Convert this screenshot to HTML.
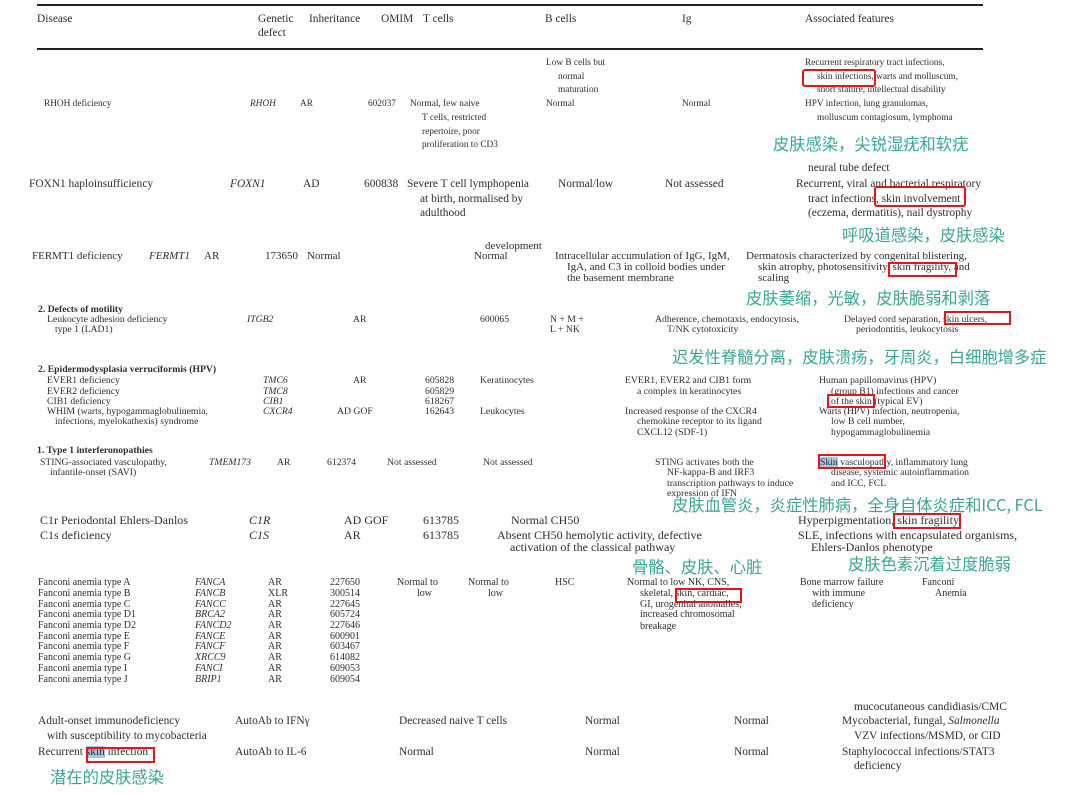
<!DOCTYPE html>
<html><head><meta charset="utf-8"><style>
body{margin:0;background:#fff;width:1080px;height:796px;position:relative;overflow:hidden;font-family:"Liberation Serif","Noto Serif CJK SC",serif;color:#2e2e2e}
.t{position:absolute;white-space:nowrap;line-height:1}
.s9{font-size:9.3px}.s8{font-size:9.7px}.s10{font-size:12px}.s11{font-size:11.4px}.s95{font-size:11px}.f{font-size:10px}
i{font-style:italic}
.cn{position:absolute;white-space:nowrap;line-height:1;font-family:"Noto Sans CJK SC",sans-serif;color:#3aa597;font-size:16.3px}
.r{position:absolute;border:2px solid #e8141c;box-sizing:border-box}
.hl{position:absolute;left:37px;width:946px;height:2px;background:#222}
</style></head><body>
<div class="hl" style="top:4px"></div><div class="hl" style="top:48px"></div>
<div class="t s11" style="left:37px;top:14px">Disease</div>
<div class="t s11" style="left:258px;top:14px">Genetic</div>
<div class="t s11" style="left:258px;top:28px">defect</div>
<div class="t s11" style="left:309px;top:14px">Inheritance</div>
<div class="t s11" style="left:381px;top:14px">OMIM</div>
<div class="t s11" style="left:423px;top:14px">T cells</div>
<div class="t s11" style="left:545px;top:14px">B cells</div>
<div class="t s11" style="left:682px;top:14px">Ig</div>
<div class="t s11" style="left:805px;top:14px">Associated features</div>

<!-- RHOH -->
<div class="t s9" style="left:546px;top:59px">Low B cells but</div>
<div class="t s9" style="left:558px;top:73px">normal</div>
<div class="t s9" style="left:558px;top:86px">maturation</div>
<div class="t s9" style="left:805px;top:59px">Recurrent respiratory tract infections,</div>
<div class="t s9" style="left:817px;top:73px">skin infections, warts and molluscum,</div>
<div class="t s9" style="left:817px;top:86px">short stature, intellectual disability</div>
<div class="t s9" style="left:44px;top:100px">RHOH deficiency</div>
<div class="t s9" style="left:250px;top:100px"><i>RHOH</i></div>
<div class="t s9" style="left:300px;top:100px">AR</div>
<div class="t s9" style="left:368px;top:100px">602037</div>
<div class="t s9" style="left:410px;top:100px">Normal, few naive</div>
<div class="t s9" style="left:546px;top:100px">Normal</div>
<div class="t s9" style="left:682px;top:100px">Normal</div>
<div class="t s9" style="left:805px;top:100px">HPV infection, lung granulomas,</div>
<div class="t s9" style="left:422px;top:114px">T cells, restricted</div>
<div class="t s9" style="left:817px;top:114px">molluscum contagiosum, lymphoma</div>
<div class="t s9" style="left:422px;top:128px">repertoire, poor</div>
<div class="t s9" style="left:422px;top:141px">proliferation to CD3</div>
<div class="r" style="left:802px;top:69px;width:74px;height:18px;border-radius:3px"></div>
<div class="cn" style="left:773px;top:135px">皮肤感染，尖锐湿疣和软疣</div>

<!-- FOXN1 -->
<div class="t s11" style="left:808px;top:163px">neural tube defect</div>
<div class="t s11" style="left:29px;top:179px">FOXN1 haploinsufficiency</div>
<div class="t s11" style="left:230px;top:179px"><i>FOXN1</i></div>
<div class="t s11" style="left:303px;top:179px">AD</div>
<div class="t s11" style="left:364px;top:179px">600838</div>
<div class="t s11" style="left:407px;top:179px">Severe T cell lymphopenia</div>
<div class="t s11" style="left:558px;top:179px">Normal/low</div>
<div class="t s11" style="left:665px;top:179px">Not assessed</div>
<div class="t s11" style="left:796px;top:179px">Recurrent, viral and bacterial respiratory</div>
<div class="t s11" style="left:420px;top:194px">at birth, normalised by</div>
<div class="t s11" style="left:808px;top:194px">tract infections, skin involvement</div>
<div class="t s11" style="left:420px;top:208px">adulthood</div>
<div class="t s11" style="left:808px;top:208px">(eczema, dermatitis), nail dystrophy</div>
<div class="r" style="left:874px;top:186px;width:92px;height:21px;border-radius:3px"></div>
<div class="cn" style="left:842px;top:226px">呼吸道感染，皮肤感染</div>

<!-- FERMT1 -->
<div class="t s95" style="left:485px;top:241px">development</div>
<div class="t s95" style="left:32px;top:251px">FERMT1 deficiency</div>
<div class="t s95" style="left:149px;top:251px"><i>FERMT1</i></div>
<div class="t s95" style="left:204px;top:251px">AR</div>
<div class="t s95" style="left:265px;top:251px">173650</div>
<div class="t s95" style="left:307px;top:251px">Normal</div>
<div class="t s95" style="left:474px;top:251px">Normal</div>
<div class="t s95" style="left:555px;top:251px">Intracellular accumulation of IgG, IgM,</div>
<div class="t s95" style="left:746px;top:251px">Dermatosis characterized by congenital blistering,</div>
<div class="t s95" style="left:567px;top:262px">IgA, and C3 in colloid bodies under</div>
<div class="t s95" style="left:758px;top:262px">skin atrophy, photosensitivity, skin fragility, and</div>
<div class="t s95" style="left:567px;top:273px">the basement membrane</div>
<div class="t s95" style="left:758px;top:273px">scaling</div>
<div class="r" style="left:888px;top:262px;width:69px;height:15px"></div>
<div class="cn" style="left:746px;top:289px">皮肤萎缩，光敏，皮肤脆弱和剥落</div>

<!-- Motility -->
<div class="t s8" style="left:38px;top:305px"><b>2. Defects of motility</b></div>
<div class="t s8" style="left:47px;top:315px">Leukocyte adhesion deficiency</div>
<div class="t s8" style="left:247px;top:315px"><i>ITGB2</i></div>
<div class="t s8" style="left:353px;top:315px">AR</div>
<div class="t s8" style="left:480px;top:315px">600065</div>
<div class="t s8" style="left:550px;top:315px">N + M +</div>
<div class="t s8" style="left:655px;top:315px">Adherence, chemotaxis, endocytosis,</div>
<div class="t s8" style="left:844px;top:315px">Delayed cord separation, skin ulcers,</div>
<div class="t s8" style="left:55px;top:325px">type 1 (LAD1)</div>
<div class="t s8" style="left:550px;top:325px">L + NK</div>
<div class="t s8" style="left:667px;top:325px">T/NK cytotoxicity</div>
<div class="t s8" style="left:856px;top:325px">periodontitis, leukocytosis</div>
<div class="r" style="left:944px;top:311px;width:67px;height:14px"></div>
<div class="cn" style="left:672px;top:348px">迟发性脊髓分离，皮肤溃疡，牙周炎，白细胞增多症</div>

<!-- HPV -->
<div class="t s8" style="left:38px;top:365px"><b>2. Epidermodysplasia verruciformis (HPV)</b></div>
<div class="t s8" style="left:47px;top:376px">EVER1 deficiency</div>
<div class="t s8" style="left:263px;top:376px"><i>TMC6</i></div>
<div class="t s8" style="left:353px;top:376px">AR</div>
<div class="t s8" style="left:425px;top:376px">605828</div>
<div class="t s8" style="left:480px;top:376px">Keratinocytes</div>
<div class="t s8" style="left:625px;top:376px">EVER1, EVER2 and CIB1 form</div>
<div class="t s8" style="left:819px;top:376px">Human papillomavirus (HPV)</div>
<div class="t s8" style="left:47px;top:387px">EVER2 deficiency</div>
<div class="t s8" style="left:263px;top:387px"><i>TMC8</i></div>
<div class="t s8" style="left:425px;top:387px">605829</div>
<div class="t s8" style="left:637px;top:387px">a complex in keratinocytes</div>
<div class="t s8" style="left:831px;top:387px">(group B1) infections and cancer</div>
<div class="t s8" style="left:47px;top:397px">CIB1 deficiency</div>
<div class="t s8" style="left:263px;top:397px"><i>CIB1</i></div>
<div class="t s8" style="left:425px;top:397px">618267</div>
<div class="t s8" style="left:831px;top:397px">of the skin (typical EV)</div>
<div class="t s8" style="left:47px;top:407px">WHIM (warts, hypogammaglobulinemia,</div>
<div class="t s8" style="left:263px;top:407px"><i>CXCR4</i></div>
<div class="t s8" style="left:337px;top:407px">AD GOF</div>
<div class="t s8" style="left:425px;top:407px">162643</div>
<div class="t s8" style="left:480px;top:407px">Leukocytes</div>
<div class="t s8" style="left:625px;top:407px">Increased response of the CXCR4</div>
<div class="t s8" style="left:819px;top:407px">Warts (HPV) infection, neutropenia,</div>
<div class="t s8" style="left:55px;top:417px">infections, myelokathexis) syndrome</div>
<div class="t s8" style="left:637px;top:417px">chemokine receptor to its ligand</div>
<div class="t s8" style="left:831px;top:417px">low B cell number,</div>
<div class="t s8" style="left:637px;top:428px">CXCL12 (SDF-1)</div>
<div class="t s8" style="left:831px;top:428px">hypogammaglobulinemia</div>
<div class="r" style="left:827px;top:394px;width:48px;height:14px"></div>

<!-- Interferon -->
<div class="t s8" style="left:37px;top:446px"><b>1. Type 1 interferonopathies</b></div>
<div class="t s8" style="left:40px;top:458px">STING-associated vasculopathy,</div>
<div class="t s8" style="left:209px;top:458px"><i>TMEM173</i></div>
<div class="t s8" style="left:277px;top:458px">AR</div>
<div class="t s8" style="left:327px;top:458px">612374</div>
<div class="t s8" style="left:387px;top:458px">Not assessed</div>
<div class="t s8" style="left:483px;top:458px">Not assessed</div>
<div class="t s8" style="left:655px;top:458px">STING activates both the</div>
<div class="t s8" style="left:820px;top:458px"><span style="background:#a9c6de">Skin</span> vasculopathy, inflammatory lung</div>
<div class="t s8" style="left:831px;top:468px">disease, systemic autoinflammation</div>
<div class="t s8" style="left:50px;top:468px">infantile-onset (SAVI)</div>
<div class="t s8" style="left:667px;top:468px">NF-kappa-B and IRF3</div>
<div class="t s8" style="left:667px;top:479px">transcription pathways to induce</div>
<div class="t s8" style="left:831px;top:479px">and ICC, FCL</div>
<div class="t s8" style="left:667px;top:489px">expression of IFN</div>
<div class="r" style="left:818px;top:454px;width:68px;height:15px"></div>
<div class="cn" style="left:672px;top:496px">皮肤血管炎，炎症性肺病，全身自体炎症和ICC, FCL</div>

<!-- C1 -->
<div class="t s10" style="left:40px;top:514px">C1r Periodontal Ehlers-Danlos</div>
<div class="t s10" style="left:249px;top:514px"><i>C1R</i></div>
<div class="t s10" style="left:344px;top:514px">AD GOF</div>
<div class="t s10" style="left:423px;top:514px">613785</div>
<div class="t s10" style="left:511px;top:514px">Normal CH50</div>
<div class="t s10" style="left:798px;top:514px">Hyperpigmentation, skin fragility</div>
<div class="r" style="left:893px;top:513px;width:68px;height:16px"></div>
<div class="t s10" style="left:40px;top:529px">C1s deficiency</div>
<div class="t s10" style="left:249px;top:529px"><i>C1S</i></div>
<div class="t s10" style="left:344px;top:529px">AR</div>
<div class="t s10" style="left:423px;top:529px">613785</div>
<div class="t s10" style="left:497px;top:529px">Absent CH50 hemolytic activity, defective</div>
<div class="t s10" style="left:798px;top:529px">SLE, infections with encapsulated organisms,</div>
<div class="t s10" style="left:510px;top:541px">activation of the classical pathway</div>
<div class="t s10" style="left:811px;top:541px">Ehlers-Danlos phenotype</div>
<div class="cn" style="left:632px;top:558px">骨骼、皮肤、心脏</div>
<div class="cn" style="left:848px;top:555px">皮肤色素沉着过度脆弱</div>

<!-- Fanconi -->
<div class="t f" style="left:38px;top:578px">Fanconi anemia type A</div><div class="t f" style="left:195px;top:578px"><i>FANCA</i></div><div class="t f" style="left:268px;top:578px">AR</div><div class="t f" style="left:330px;top:578px">227650</div>
<div class="t f" style="left:38px;top:589px">Fanconi anemia type B</div><div class="t f" style="left:195px;top:589px"><i>FANCB</i></div><div class="t f" style="left:268px;top:589px">XLR</div><div class="t f" style="left:330px;top:589px">300514</div>
<div class="t f" style="left:38px;top:600px">Fanconi anemia type C</div><div class="t f" style="left:195px;top:600px"><i>FANCC</i></div><div class="t f" style="left:268px;top:600px">AR</div><div class="t f" style="left:330px;top:600px">227645</div>
<div class="t f" style="left:38px;top:610px">Fanconi anemia type D1</div><div class="t f" style="left:195px;top:610px"><i>BRCA2</i></div><div class="t f" style="left:268px;top:610px">AR</div><div class="t f" style="left:330px;top:610px">605724</div>
<div class="t f" style="left:38px;top:621px">Fanconi anemia type D2</div><div class="t f" style="left:195px;top:621px"><i>FANCD2</i></div><div class="t f" style="left:268px;top:621px">AR</div><div class="t f" style="left:330px;top:621px">227646</div>
<div class="t f" style="left:38px;top:632px">Fanconi anemia type E</div><div class="t f" style="left:195px;top:632px"><i>FANCE</i></div><div class="t f" style="left:268px;top:632px">AR</div><div class="t f" style="left:330px;top:632px">600901</div>
<div class="t f" style="left:38px;top:642px">Fanconi anemia type F</div><div class="t f" style="left:195px;top:642px"><i>FANCF</i></div><div class="t f" style="left:268px;top:642px">AR</div><div class="t f" style="left:330px;top:642px">603467</div>
<div class="t f" style="left:38px;top:653px">Fanconi anemia type G</div><div class="t f" style="left:195px;top:653px"><i>XRCC9</i></div><div class="t f" style="left:268px;top:653px">AR</div><div class="t f" style="left:330px;top:653px">614082</div>
<div class="t f" style="left:38px;top:664px">Fanconi anemia type I</div><div class="t f" style="left:195px;top:664px"><i>FANCI</i></div><div class="t f" style="left:268px;top:664px">AR</div><div class="t f" style="left:330px;top:664px">609053</div>
<div class="t f" style="left:38px;top:675px">Fanconi anemia type J</div><div class="t f" style="left:195px;top:675px"><i>BRIP1</i></div><div class="t f" style="left:268px;top:675px">AR</div><div class="t f" style="left:330px;top:675px">609054</div>
<div class="t f" style="left:397px;top:578px">Normal to</div><div class="t f" style="left:417px;top:589px">low</div>
<div class="t f" style="left:468px;top:578px">Normal to</div><div class="t f" style="left:488px;top:589px">low</div>
<div class="t f" style="left:555px;top:578px">HSC</div>
<div class="t f" style="left:627px;top:578px">Normal to low NK, CNS,</div>
<div class="t f" style="left:640px;top:589px">skeletal, skin, cardiac,</div>
<div class="t f" style="left:640px;top:600px">GI, urogenital anomalies,</div>
<div class="t f" style="left:640px;top:610px">increased chromosomal</div>
<div class="t f" style="left:640px;top:622px">breakage</div>
<div class="t f" style="left:800px;top:578px">Bone marrow failure</div>
<div class="t f" style="left:812px;top:589px">with immune</div>
<div class="t f" style="left:812px;top:600px">deficiency</div>
<div class="t f" style="left:922px;top:578px">Fanconi</div>
<div class="t f" style="left:935px;top:589px">Anemia</div>
<div class="r" style="left:675px;top:588px;width:67px;height:15px"></div>

<!-- bottom -->
<div class="t s11" style="left:854px;top:702px">mucocutaneous candidiasis/CMC</div>
<div class="t s11" style="left:38px;top:716px">Adult-onset immunodeficiency</div>
<div class="t s11" style="left:235px;top:716px">AutoAb to IFNγ</div>
<div class="t s11" style="left:399px;top:716px">Decreased naive T cells</div>
<div class="t s11" style="left:585px;top:716px">Normal</div>
<div class="t s11" style="left:734px;top:716px">Normal</div>
<div class="t s11" style="left:842px;top:716px">Mycobacterial, fungal, <i>Salmonella</i></div>
<div class="t s11" style="left:47px;top:731px">with susceptibility to mycobacteria</div>
<div class="t s11" style="left:854px;top:731px">VZV infections/MSMD, or CID</div>
<div class="t s11" style="left:38px;top:747px">Recurrent <span style="background:#a9c6de">skin</span> infection</div>
<div class="t s11" style="left:235px;top:747px">AutoAb to IL-6</div>
<div class="t s11" style="left:399px;top:747px">Normal</div>
<div class="t s11" style="left:585px;top:747px">Normal</div>
<div class="t s11" style="left:734px;top:747px">Normal</div>
<div class="t s11" style="left:842px;top:747px">Staphylococcal infections/STAT3</div>
<div class="t s11" style="left:854px;top:761px">deficiency</div>
<div class="r" style="left:86px;top:747px;width:69px;height:16px"></div>
<div class="cn" style="left:50px;top:768px">潜在的皮肤感染</div>
</body></html>
